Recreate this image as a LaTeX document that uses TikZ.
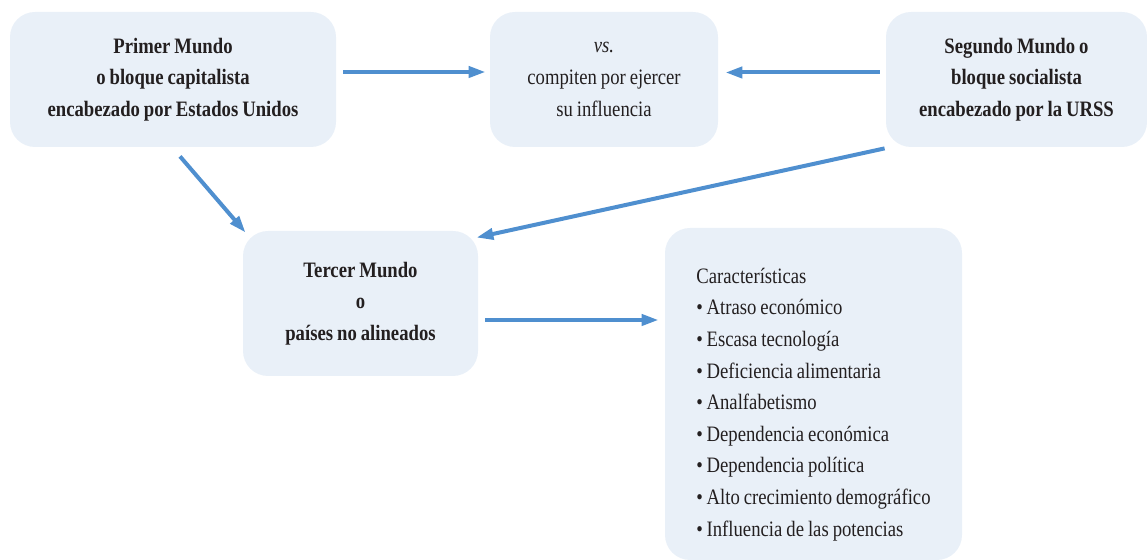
\documentclass[tikz,border=0pt]{standalone}
\usepackage{fontspec}
\setmainfont{Liberation Serif}[FakeStretch=0.85,WordSpace=0.85]
\usetikzlibrary{arrows.meta,calc}
\definecolor{caja}{HTML}{E9F0F8}
\definecolor{flecha}{HTML}{4F8FCF}
\definecolor{tinta}{HTML}{231F20}
\begin{document}
\begin{tikzpicture}[x=0.5pt,y=-0.5pt,
  bloque/.style={fill=caja,rounded corners=12.5pt,inner sep=0pt,align=center,text=tinta,font=\fontsize{11}{15.8}\selectfont},
  negrita/.style={font=\bfseries\fontsize{11}{15.8}\selectfont},
  enlace/.style={draw=flecha,line width=2pt,-{Triangle[length=8.5pt,width=5.5pt]}}]
\useasboundingbox (0,0) rectangle (1147,560); \clip (0,0) rectangle (1147,560);
\node[bloque,negrita,minimum width=163pt,minimum height=67.5pt] (prim) at (173,79.5) {Primer Mundo\\o bloque capitalista\\encabezado por Estados Unidos};
\node[bloque,minimum width=114pt,minimum height=67.5pt] (vs) at (604,79.5) {\textit{vs.}\\compiten por ejercer\\su influencia};
\node[bloque,negrita,minimum width=130.5pt,minimum height=67.5pt] (seg) at (1016.5,79.5) {Segundo Mundo o\\bloque socialista\\encabezado por la URSS};
\node[bloque,negrita,minimum width=117.5pt,minimum height=72.5pt] (ter) at (360.5,303.5) {Tercer Mundo\\o\\países no alineados};
\node[bloque,minimum width=148.5pt,minimum height=166pt,align=left] (car) at (813.5,394) {\rule{0pt}{18pt}Características\\•\,Atraso económico\\•\,Escasa tecnología\\•\,Deficiencia alimentaria\\•\,Analfabetismo\\•\,Dependencia económica\\•\,Dependencia política\\•\,Alto crecimiento demográfico\\•\,Influencia de las potencias};
\draw[enlace] ($(prim.east)+(7,-7.5)$) -- ($(vs.west)+(-4,-7.5)$);
\draw[enlace] ($(seg.west)+(-6,-7)$) -- ($(vs.east)+(7,-7)$);
\draw[enlace] ($(prim.south)+(7,9)$) -- ($(ter.north west)+(3,2)$);
\draw[enlace] ($(seg.south west)+(-1,1)$) -- ($(ter.north east)+(-2,7)$);
\draw[enlace] ($(ter.east)+(7,16.5)$) -- ($(car.west)+(-6,-74)$);
\end{tikzpicture}
\end{document}
